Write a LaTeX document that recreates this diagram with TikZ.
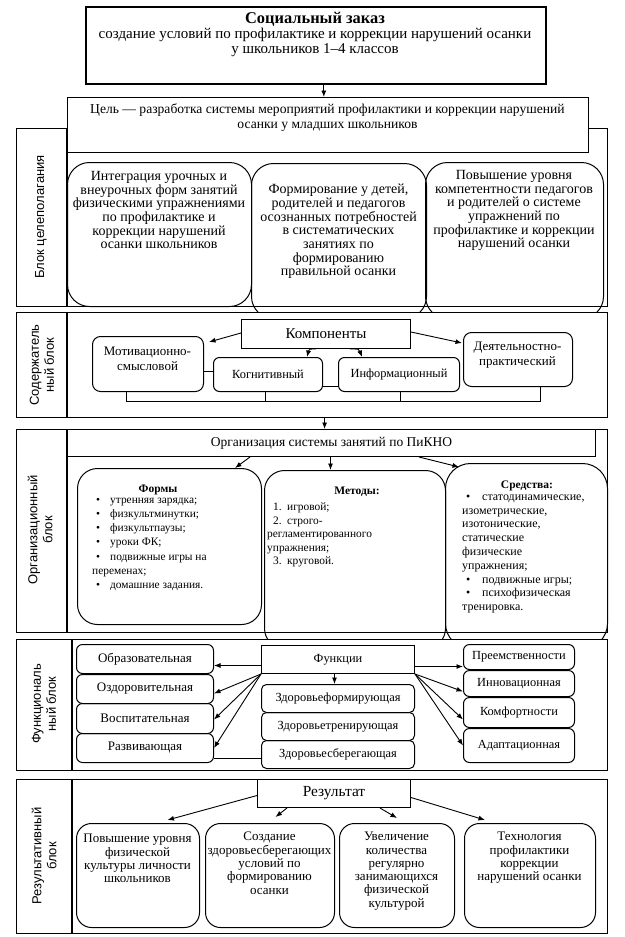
\documentclass[tikz,border=0pt]{standalone}
\usepackage{fontspec}
\setmainfont{Liberation Serif}
\newfontfamily\labfont{Liberation Sans}
\usetikzlibrary{arrows.meta}
\newcommand\fs[2]{\fontsize{#1}{#2}\selectfont}
\newcommand\bul{\makebox[14pt][l]{•}}
\newcommand\bulw{\makebox[16pt][l]{•}}
\newcommand\bx[7]{\node[#2, minimum width={#5-#3}, minimum height={#6-#4}] (#1) at (#3,#4) {#7};}
\begin{document}
\begin{tikzpicture}[x=1pt,y=-1pt,
  blk/.style={draw, line width=1.2pt, fill=white, inner sep=0pt, anchor=north west, align=center},
  box/.style={draw, line width=1pt, inner sep=0pt, anchor=north west, align=center},
  wbox/.style={box, fill=white},
  rb/.style={box, rounded corners=#1},
  txt/.style={inner sep=0pt, align=center, anchor=north},
  lst/.style={inner sep=0pt, align=left, anchor=north west},
  lab/.style={inner sep=0pt, align=center, rotate=90, font=\labfont\fs{13}{15}},
  hd/.style={inner sep=0pt, font=\bfseries\fs{11.5}{13}},
  arr/.style={line width=0.9pt, -{Latex[length=6.5pt,width=5pt]}},
  ln/.style={line width=0.9pt},
  sm/.style={font=\fs{12.4}{14}},
  lg/.style={font=\fs{13}{14}},
]
\useasboundingbox (0,0) rectangle (624,937);

% ---------- top ----------
\bx{soc}{box, line width=1.6pt}{85}{6}{545}{83}{}
\node[txt, font=\fs{15}{15}] (soct) at (315,12) {{\fontsize{16.4}{15}\selectfont\bfseries Социальный заказ}\\создание условий по профилактике и коррекции нарушений осанки\\у школьников 1–4 классов};

% ---------- block 1 ----------
\bx{b1}{blk}{16}{128}{607}{306}{}
\draw[line width=1.2pt] ([xshift=51pt]b1.north west) -- ([xshift=51pt]b1.south west);
\bx{cel}{wbox}{67}{97}{588}{152}{}
\node[txt, font=\fs{13.6}{15}] (celt) at (327.5,104) {Цель — разработка системы мероприятий профилактики и коррекции нарушений\\осанки у младших школьников};
\draw[arr] ([xshift=8pt]soc.south) -- ([xshift=8pt]soc.south |- cel.north);
\node[lab] (b1l) at (41,217) {Блок целеполагания};
\bx{g1}{rb=22pt}{67}{162}{251}{306}{}
\bx{g2}{rb=22pt}{251}{163}{426}{318}{}
\bx{g3}{rb=22pt}{425}{162}{603}{318}{}
\node[txt, font=\fs{14}{13.7}] (g1t) at (159,171) {Интеграция урочных и\\внеурочных форм занятий\\физическими упражнениями\\по профилактике и\\коррекции нарушений\\осанки школьников};
\node[txt, font=\fs{14}{13.7}] (g2t) at (338.5,184) {Формирование у детей,\\родителей и педагогов\\осознанных потребностей\\в систематических\\занятиях по\\формированию\\правильной осанки};
\node[txt, font=\fs{14}{13.7}] (g3t) at (514,170) {Повышение уровня\\компетентности педагогов\\и родителей о системе\\упражнений по\\профилактике и коррекции\\нарушений осанки};

% ---------- block 2 ----------
\bx{b2}{blk}{16}{312}{607}{417}{}
\draw[line width=1.2pt] ([xshift=51pt]b2.north west) -- ([xshift=51pt]b2.south west);
\node[lab] (b2l) at (42,365) {Содержатель\\ный блок};
\bx{komp}{wbox}{241}{319}{410}{348}{\fs{15}{17}Компоненты}
\bx{mot}{rb=8pt}{92}{336}{203}{391}{}
\node[txt, font=\fs{13}{15}] (mott) at (147.5,346.5) {Мотивационно-\\смысловой};
\bx{kog}{rb=6pt, sm}{213}{357}{322}{391}{Когнитивный}
\bx{inf}{rb=6pt, sm}{338}{357}{459}{391}{Информационный}
\bx{deya}{rb=8pt}{463}{332}{572}{386}{}
\node[txt, font=\fs{13}{15}] (deyat) at (517.5,341.5) {Деятельностно-\\практический};
\draw[ln] ([yshift=-7.5pt]mot.east) -- ([yshift=-7.5pt]mot.east -| kog.west);
\draw[ln] ([yshift=-12pt]kog.east) -- ([yshift=-12pt]kog.east -| inf.west);
\coordinate (br1) at (126,401);
\coordinate (br2) at (265,401);
\coordinate (br3) at (400,401);
\coordinate (br4) at (540,401);
\draw[ln] (br1 |- mot.south) -- (br1) -- (br4) -- (br4 |- deya.south);
\draw[ln] (br2 |- kog.south) -- (br2);
\draw[ln] (br3 |- inf.south) -- (br3);
\draw[arr] ([yshift=-14pt]komp.north west) -- ([shift={(5pt,-6pt)}]mot.north east);
\draw[arr] ([yshift=-13pt]komp.north east) -- ([shift={(-1pt,-11pt)}]deya.north west);
\coordinate (ka) at ([xshift=75pt]komp.south west);
\coordinate (kb) at ([xshift=-16pt]kog.north east);
\coordinate (kc) at ([xshift=109pt]komp.south west);
\coordinate (kd) at ([xshift=24pt]inf.north west);
\draw[arr] (ka) .. controls ([xshift=-7pt]ka) .. (kb);
\draw[arr] (kc) .. controls ([xshift=9pt]kc) .. (kd);

% ---------- block 3 ----------
\bx{b3}{blk}{16}{429}{607}{632}{}
\draw[line width=1.2pt] ([xshift=51pt]b3.north west) -- ([xshift=51pt]b3.south west);
\draw[arr] ([xshift=12.5pt]b2.south) -- ([xshift=12.5pt]b2.south |- b3.north);
\node[lab] (b3l) at (40,530) {Организационный\\блок};
\bx{org}{box}{67}{429}{595}{456}{\fs{13.5}{15}Организация системы занятий по ПиКНО}
\bx{form}{rb=20pt}{77}{468}{261}{624}{}
\bx{met}{rb=20pt}{264}{470}{445}{648}{}
\bx{sred}{rb=25pt}{445}{463}{607}{648}{}
\node[hd] (formh) at (158,490) {Формы};
\node[lst, font=\fs{11.4}{14.3}] (forml) at (96,497.5) {\bul утренняя зарядка;\\\bul физкультминутки;\\\bul физкультпаузы;\\\bul уроки ФК;\\\bul подвижные игры на\\\hspace*{-4pt}переменах;\\\bul домашние задания.};
\node[hd] (meth) at (357,492) {Методы:};
\node[lst, font=\fs{11.4}{13.5}] (metl) at (273,502.5) {\makebox[14pt][l]{1.}игровой;\\\makebox[14pt][l]{2.}строго-\\\hspace*{-6pt}регламентированного\\\hspace*{-6pt}упражнения;\\\makebox[14pt][l]{3.}круговой.};
\node[hd] (sredh) at (527,486) {Средства:};
\node[lst, font=\fs{12}{13.8}] (sredl) at (466,494.5) {\bulw статодинамические,\\\hspace*{-4pt}изометрические,\\\hspace*{-4pt}изотонические,\\\hspace*{-4pt}статические\\\hspace*{-4pt}физические\\\hspace*{-4pt}упражнения;\\\bulw подвижные игры;\\\bulw психофизическая\\\hspace*{-4pt}тренировка.};
\draw[arr] ([xshift=183pt]org.south west) -- ([xshift=158pt]form.north west);
\draw[arr] ([xshift=-1pt]org.south) -- ([xshift=-1pt]org.south |- met.north);
\draw[arr] ([xshift=352pt]org.south west) -- ([shift={(14pt,-4pt)}]sred.north west);

% ---------- block 4 ----------
\bx{b4}{blk}{16}{639}{607}{770}{}
\draw[line width=1.2pt] ([xshift=56pt]b4.north west) -- ([xshift=56pt]b4.south west);
\node[lab] (b4l) at (44,704) {Функциональ\\ный блок};
\bx{ob}{rb=6pt, lg}{76}{644}{213}{673}{Образовательная}
\bx{oz}{rb=6pt, lg}{76}{674}{213}{703}{Оздоровительная}
\bx{vo}{rb=6pt, lg}{76}{703}{213}{733}{Воспитательная}
\bx{ra}{rb=6pt, lg}{76}{733}{213}{762}{Развивающая}
\bx{func}{box, sm}{261}{645}{414}{673}{Функции}
\bx{zf}{rb=5pt, sm}{261}{684}{414}{712}{Здоровьеформирующая}
\bx{zt}{rb=5pt, sm}{261}{712}{414}{740}{Здоровьетренирующая}
\bx{zs}{rb=5pt, sm}{261}{740}{414}{768}{Здоровьесберегающая}
\bx{pr}{rb=6pt, sm}{463}{644}{574}{669}{Преемственности}
\bx{inn}{rb=6pt, sm}{463}{670}{574}{696}{Инновационная}
\bx{ko}{rb=6pt, sm}{463}{697}{574}{727}{Комфортности}
\bx{ad}{rb=6pt, sm}{463}{728}{574}{762}{Адаптационная}
\draw[arr] ([yshift=-6pt]func.west) -- ([yshift=-6pt]func.west -| ob.east);
\draw[arr] (func.south west) -- ([yshift=-4.5pt]oz.east);
\draw[arr] (func.south west) -- ([yshift=-1pt]vo.east);
\draw[arr] (func.south west) -- (ra.east);
\draw[arr] ([xshift=-3.5pt]func.south) -- ([xshift=-3.5pt]func.south |- zf.north);
\draw[ln] ([yshift=-10.5pt]ra.east) -- ([yshift=-10.5pt]ra.east -| zs.west);
\draw[arr] ([yshift=-7pt]func.east) -- ([yshift=-7pt]func.east -| pr.west);
\draw[arr] (func.south east) -- ([yshift=-8pt]inn.west);
\draw[arr] (func.south east) -- ([yshift=-7pt]ko.west);
\draw[arr] (func.south east) -- (ad.west);

% ---------- block 5 ----------
\bx{b5}{blk}{16}{779}{607}{933}{}
\draw[line width=1.2pt] ([xshift=56pt]b5.north west) -- ([xshift=56pt]b5.south west);
\node[lab] (b5l) at (44,856) {Результативный\\блок};
\bx{rez}{box, font=\fs{15.4}{17}}{257}{779}{410}{807}{Результат}
\bx{r1}{rb=15pt}{76}{823}{199}{927}{}
\bx{r2}{rb=15pt}{205}{823}{334}{927}{}
\bx{r3}{rb=15pt}{339}{823}{454}{927}{}
\bx{r4}{rb=15pt}{464}{823}{595}{927}{}
\node[txt, font=\fs{13}{13.3}] (r1t) at (137.5,834) {Повышение уровня\\физической\\культуры личности\\школьников};
\node[txt, font=\fs{13}{13.3}] (r2t) at (269.5,832) {Создание\\здоровьесберегающих\\условий по\\формированию\\осанки};
\node[txt, font=\fs{13}{13.3}] (r3t) at (396.5,832) {Увеличение\\количества\\регулярно\\занимающихся\\физической\\культурой};
\node[txt, font=\fs{13}{13.3}] (r4t) at (529.5,832) {Технология\\профилактики\\коррекции\\нарушений осанки};
\draw[arr] ([yshift=-2pt]rez.west) -- ([shift={(29.5pt,3pt)}]r1.north);
\draw[arr] ([xshift=30pt]rez.south west) -- ([shift={(5.5pt,6pt)}]r2.north);
\draw[arr] ([xshift=123pt]rez.south west) -- ([shift={(0pt,5pt)}]r3.north);
\draw[arr] ([yshift=-4pt]rez.east) -- ([shift={(21pt,3pt)}]r4.north west);
\end{tikzpicture}
\end{document}
